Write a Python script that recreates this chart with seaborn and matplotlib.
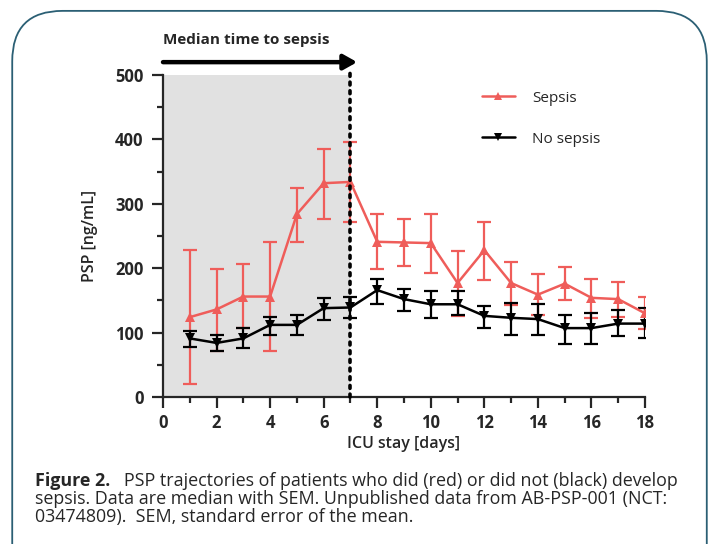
import numpy as np
import pandas as pd
import seaborn as sns
import matplotlib.pyplot as plt
from matplotlib.patches import FancyBboxPatch
from matplotlib.ticker import MultipleLocator

days = list(range(1, 19))
sepsis_med = [124, 136, 156, 156, 284, 332, 334, 241, 240, 239, 177, 228, 177, 159, 176, 154, 152, 130]
sepsis_lo  = [20, 71, 107, 71, 241, 277, 272, 199, 204, 192, 126, 181, 143, 127, 150, 123, 125, 106]
sepsis_hi  = [229, 199, 206, 241, 325, 385, 396, 284, 276, 284, 226, 272, 210, 191, 202, 183, 179, 155]
nosep_med = [91, 84, 91, 112, 112, 138, 139, 166, 152, 144, 144, 126, 123, 121, 107, 107, 114, 114]
nosep_lo  = [78, 71, 76, 96, 96, 120, 122, 145, 134, 122, 127, 107, 97, 97, 82, 82, 94, 91]
nosep_hi  = [103, 96, 107, 125, 127, 154, 155, 183, 167, 165, 165, 142, 146, 144, 127, 130, 135, 138]
median_sepsis_day = 7

RED = "#ef5d5a"
BLACK = "#000000"

sns.set_style("ticks")
plt.rcParams["font.family"] = ["Open Sans", "DejaVu Sans"]

df = pd.concat([
    pd.DataFrame({"day": days, "psp": sepsis_med, "group": "Sepsis"}),
    pd.DataFrame({"day": days, "psp": nosep_med, "group": "No sepsis"}),
], ignore_index=True)

fig = plt.figure(figsize=(7.19, 5.44), dpi=100)
ax = fig.add_axes([0.2267, 0.2702, 0.6704, 0.5919])

# border box
fig.patches.append(FancyBboxPatch((0.017, -0.2), 0.966, 1.18,
                                  boxstyle="round,pad=0,rounding_size=0.07",
                                  transform=fig.transFigure, fill=False,
                                  edgecolor="#2b5f74", linewidth=1.3,
                                  mutation_aspect=719 / 544))

ax.axvspan(0, median_sepsis_day, color="#e1e1e1", zorder=0, lw=0)

# error bars
ax.errorbar(days, sepsis_med,
            yerr=[np.array(sepsis_med) - np.array(sepsis_lo), np.array(sepsis_hi) - np.array(sepsis_med)],
            fmt="none", ecolor=RED, elinewidth=1.6, capsize=5, capthick=1.6, zorder=3)
ax.errorbar(days, nosep_med,
            yerr=[np.array(nosep_med) - np.array(nosep_lo), np.array(nosep_hi) - np.array(nosep_med)],
            fmt="none", ecolor=BLACK, elinewidth=1.6, capsize=5, capthick=1.6, zorder=3)

sns.lineplot(data=df, x="day", y="psp", hue="group", style="group",
             palette={"Sepsis": RED, "No sepsis": BLACK},
             markers={"Sepsis": "^", "No sepsis": "v"}, dashes=False,
             markersize=7.5, markeredgewidth=0, linewidth=1.8, ax=ax, zorder=4)

ax.plot([median_sepsis_day, median_sepsis_day], [0, 505], color="black",
        linestyle=(0, (0.8, 1.6)), linewidth=2.6, clip_on=False, zorder=5,
        dash_capstyle="round")

ax.annotate("", xy=(7.25, 520), xytext=(0, 520), xycoords="data",
            arrowprops=dict(arrowstyle="-|>,head_length=0.8,head_width=0.45",
                            color="black", lw=3.2, shrinkA=0, shrinkB=0),
            annotation_clip=False)
ax.text(0, 555, "Median time to sepsis", fontsize=11, fontweight="bold",
        ha="left", va="center")

ax.set_xlim(0, 18)
ax.set_ylim(0, 500)
ax.xaxis.set_major_locator(MultipleLocator(2))
ax.xaxis.set_minor_locator(MultipleLocator(1))
ax.yaxis.set_major_locator(MultipleLocator(100))
ax.yaxis.set_minor_locator(MultipleLocator(50))
for s in ["top", "right"]:
    ax.spines[s].set_visible(False)
for s in ["left", "bottom"]:
    ax.spines[s].set_linewidth(1.6)
ax.tick_params(which="major", length=8, width=1.6, labelsize=12, pad=4)
ax.tick_params(axis="y", which="major", pad=6)
ax.tick_params(which="minor", length=4.5, width=1.6)
for lab in ax.get_xticklabels() + ax.get_yticklabels():
    lab.set_fontweight("bold")

ax.set_xlabel("ICU stay [days]", fontsize=11.5, fontweight="semibold", labelpad=3)
ax.set_ylabel("PSP [ng/mL]", fontsize=11.5, fontweight="semibold", labelpad=12)

handles, labels = ax.get_legend_handles_labels()
for h in handles:
    h.set_markersize(6)
leg = ax.legend(handles, labels, loc="upper left", bbox_to_anchor=(0.645, 0.975),
                frameon=False, fontsize=11, handlelength=2.2, labelspacing=1.7,
                borderpad=0, handletextpad=1.1)

# caption
cap = 12.9
t1 = fig.text(0.049, 0.116, "Figure 2.", fontsize=cap, fontweight="bold", ha="left", va="center")
ax.annotate("   PSP trajectories of patients who did (red) or did not (black) develop",
            xy=(1, 0.5), xycoords=t1, va="center", ha="left", fontsize=cap)
fig.text(0.049, 0.083, "sepsis. Data are median with SEM. Unpublished data from AB-PSP-001 (NCT:",
         fontsize=cap, ha="left", va="center")
fig.text(0.049, 0.050, "03474809).  SEM, standard error of the mean.",
         fontsize=cap, ha="left", va="center")

fig.savefig("out.png", dpi=100)
